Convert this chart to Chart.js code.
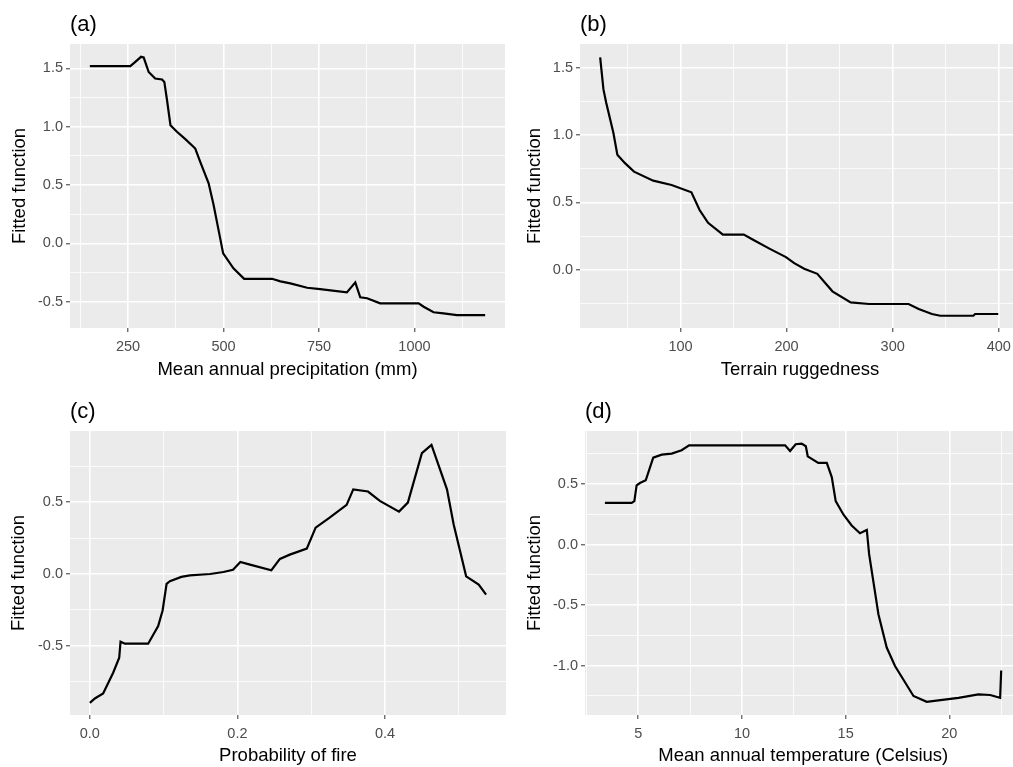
<!DOCTYPE html>
<html>
<head>
<meta charset="utf-8">
<script src="https://cdn.jsdelivr.net/npm/chart.js@4.4.1/dist/chart.umd.min.js"></script>
<style>
  html, body { margin: 0; padding: 0; background: #fff; overflow: hidden; width: 1013px; height: 767px; }
  .panel { position: absolute; }
</style>
</head>
<body>
<div class="panel" style="left:0;top:0"><canvas id="pa" width="510" height="390"></canvas></div>
<div class="panel" style="left:505px;top:0"><canvas id="pb" width="520" height="390"></canvas></div>
<div class="panel" style="left:0;top:390px"><canvas id="pc" width="510" height="377"></canvas></div>
<div class="panel" style="left:505px;top:390px"><canvas id="pd" width="520" height="377"></canvas></div>
<script>
// (a) precipitation
const precipX = [150, 256, 269, 284, 291, 304, 321, 339, 345, 352, 361, 378, 400, 426, 439, 461, 474, 487, 499, 526, 554, 627, 649, 675, 719, 753, 823, 845, 858, 876, 910, 1011, 1024, 1050, 1076, 1111, 1185]
const precipY = [1.52, 1.52, 1.557, 1.6, 1.594, 1.47, 1.414, 1.406, 1.385, 1.23, 1.014, 0.957, 0.894, 0.814, 0.70, 0.515, 0.329, 0.114, -0.085, -0.214, -0.303, -0.303, -0.325, -0.342, -0.38, -0.391, -0.42, -0.334, -0.462, -0.47, -0.514, -0.514, -0.543, -0.59, -0.6, -0.614, -0.614]
const precipMajor = [250, 500, 750, 1000]
const precipMinor = [125, 375, 625, 875, 1125]

// (b) terrain ruggedness
const ruggedX = [24.3, 27.4, 30, 36.8, 40.5, 47.7, 56.2, 74.3, 91.6, 110.3, 118, 126, 140, 159.7, 168, 183.8, 199.4, 207.2, 216.6, 229, 243.2, 260.4, 277.6, 315, 324.5, 337, 344.8, 376, 377.7, 399.5]
const ruggedY = [1.575, 1.338, 1.239, 1.015, 0.853, 0.791, 0.728, 0.661, 0.629, 0.575, 0.443, 0.348, 0.261, 0.261, 0.224, 0.157, 0.094, 0.049, 0.007, -0.03, -0.16, -0.242, -0.254, -0.254, -0.291, -0.328, -0.341, -0.341, -0.328, -0.328]
const ruggedMajor = [100, 200, 300, 400]
const ruggedMinor = [50, 150, 250, 350]

// (c) probability of fire
const fireX = [0, 0.0068, 0.018, 0.0316, 0.0398, 0.0416, 0.0475, 0.079, 0.0926, 0.0986, 0.104, 0.1085, 0.124, 0.1356, 0.163, 0.181, 0.194, 0.204, 0.217, 0.246, 0.2576, 0.271, 0.294, 0.306, 0.325, 0.348, 0.357, 0.377, 0.393, 0.419, 0.431, 0.45, 0.463, 0.484, 0.493, 0.51, 0.527, 0.537]
const fireY = [-0.898, -0.868, -0.833, -0.688, -0.584, -0.472, -0.486, -0.486, -0.363, -0.254, -0.068, -0.05, -0.02, -0.009, 0.0, 0.014, 0.03, 0.084, 0.065, 0.026, 0.105, 0.135, 0.177, 0.323, 0.393, 0.482, 0.59, 0.575, 0.51, 0.435, 0.498, 0.842, 0.9, 0.59, 0.347, -0.016, -0.074, -0.144]
const fireMajor = [0, 0.2, 0.4]
const fireMinor = [0.1, 0.3, 0.5]

// (d) mean annual temperature
const tempX = [3.39, 4.68, 4.81, 4.92, 5.08, 5.36, 5.72, 6.13, 6.61, 7.09, 7.45, 12.08, 12.32, 12.59, 12.88, 13.08, 13.17, 13.68, 14.09, 14.33, 14.52, 14.89, 15.29, 15.69, 16.02, 16.13, 16.58, 16.98, 17.38, 18.27, 18.91, 19.47, 20.44, 21.4, 21.97, 22.45, 22.5]
const tempY = [0.345, 0.345, 0.359, 0.489, 0.508, 0.531, 0.718, 0.743, 0.751, 0.779, 0.82, 0.82, 0.773, 0.829, 0.834, 0.812, 0.729, 0.674, 0.674, 0.558, 0.359, 0.249, 0.158, 0.094, 0.121, -0.077, -0.575, -0.85, -1.002, -1.25, -1.298, -1.287, -1.265, -1.237, -1.242, -1.265, -1.04]
const tempMajor = [5, 10, 15, 20]
const tempMinor = [2.5, 7.5, 12.5, 17.5, 22.5]

const FONT = "'Liberation Sans', Arial, sans-serif"

// grey panel + "(a)" style tag
const panelBg = {
  id: 'panelBg',
  beforeDraw(chart) {
    const { ctx, chartArea: a } = chart
    ctx.save()
    ctx.fillStyle = '#EBEBEB'
    ctx.fillRect(a.left, a.top, a.right - a.left, a.bottom - a.top)
    ctx.restore()
  },
  afterDraw(chart, args, opts) {
    const { ctx, chartArea: a } = chart
    ctx.save()
    ctx.fillStyle = '#000'
    ctx.font = '22px ' + FONT
    ctx.textAlign = 'left'
    ctx.textBaseline = 'middle'
    ctx.fillText(opts.tag, a.left, a.top - 19)
    ctx.restore()
  }
}

function makeAxis(major, minor, min, max, decimals, title, size, titlePad, tickPad) {
  const all = major.concat(minor).sort((a, b) => a - b)
  const isMajor = v => major.includes(v)
  return {
    type: 'linear',
    min,
    max,
    afterBuildTicks: s => { s.ticks = all.map(v => ({ value: v })) },
    afterFit: s => {
      if (s.isHorizontal()) s.height = size
      else s.width = size
    },
    ticks: {
      autoSkip: false,
      maxRotation: 0,
      padding: tickPad,
      color: '#4D4D4D',
      font: { family: FONT, size: 14.5 },
      callback: v => (isMajor(v) ? v.toFixed(decimals) : '')
    },
    grid: {
      color: '#FFFFFF',
      lineWidth: c => (c.tick && isMajor(c.tick.value) ? 1.6 : 0.8),
      tickColor: c => (c.tick && isMajor(c.tick.value) ? '#333333' : 'rgba(0,0,0,0)'),
      tickWidth: 1,
      tickLength: 4
    },
    border: { display: false },
    title: {
      display: true,
      text: title,
      color: '#000',
      font: { family: FONT, size: 18.5 },
      padding: { top: titlePad, bottom: titlePad }
    }
  }
}

function drawPanel(id, tag, xs, ys, xAxis, yAxis, padding) {
  const data = xs.map((x, i) => ({ x, y: ys[i] }))
  new Chart(document.getElementById(id), {
    type: 'line',
    data: {
      datasets: [{
        data,
        borderColor: '#000000',
        borderWidth: 2.2,
        pointRadius: 0,
        tension: 0,
        fill: false
      }]
    },
    options: {
      responsive: false,
      animation: false,
      devicePixelRatio: 1,
      layout: { padding },
      scales: { x: xAxis, y: yAxis },
      plugins: {
        legend: { display: false },
        tooltip: { enabled: false },
        panelBg: { tag }
      }
    },
    plugins: [panelBg]
  })
}

drawPanel('pa', '(a)', precipX, precipY,
  makeAxis(precipMajor, precipMinor, 98, 1237, 0, 'Mean annual precipitation (mm)', 62, 8.9, 6),
  makeAxis([-0.5, 0, 0.5, 1, 1.5], [-0.25, 0.25, 0.75, 1.25], -0.725, 1.71, 1, 'Fitted function', 70, 8.9, 3),
  { top: 44, right: 5, bottom: 0, left: 0 })

drawPanel('pb', '(b)', ruggedX, ruggedY,
  makeAxis(ruggedMajor, ruggedMinor, 5.3, 420, 0, 'Terrain ruggedness', 62, 8.9, 6),
  makeAxis([0, 0.5, 1, 1.5], [-0.25, 0.25, 0.75, 1.25], -0.432, 1.675, 1, 'Fitted function', 75, 18.9, 3),
  { top: 44, right: 5, bottom: 0, left: 0 })

drawPanel('pc', '(c)', fireX, fireY,
  makeAxis(fireMajor, fireMinor, -0.0269, 0.564, 1, 'Probability of fire', 52, 0, 6),
  makeAxis([-0.5, 0, 0.5], [-0.75, -0.25, 0.25, 0.75], -0.983, 0.997, 1, 'Fitted function', 70, 7.4, 3),
  { top: 41, right: 4, bottom: 0, left: 0 })

drawPanel('pd', '(d)', tempX, tempY,
  makeAxis(tempMajor, tempMinor, 2.43, 23.48, 0, 'Mean annual temperature (Celsius)', 52, 0, 6),
  makeAxis([-1, -0.5, 0, 0.5], [-1.25, -0.75, -0.25, 0.25, 0.75], -1.407, 0.938, 1, 'Fitted function', 80, 18.9, 3),
  { top: 41, right: 3.5, bottom: 0, left: 0 })
</script>
</body>
</html>
